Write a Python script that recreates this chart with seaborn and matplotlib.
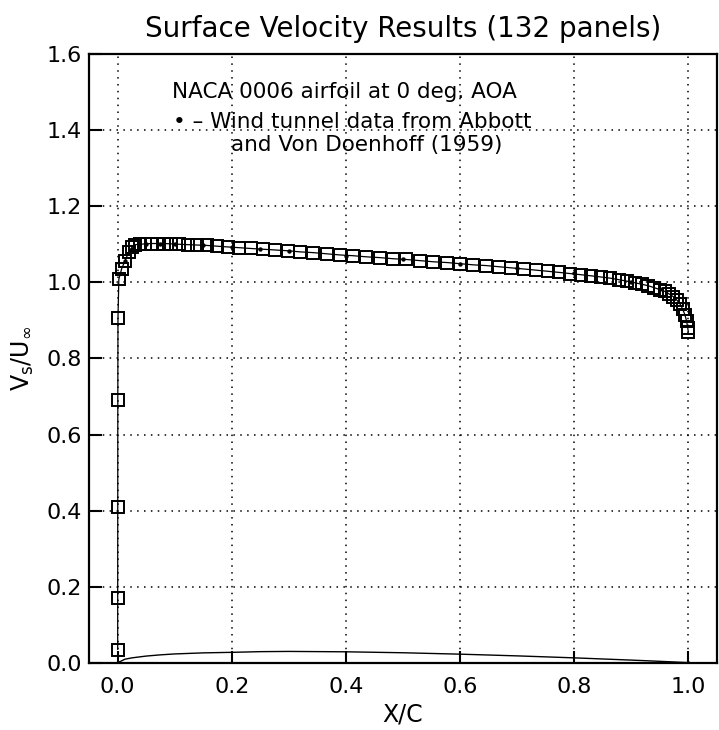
import numpy as np
import pandas as pd
import matplotlib
matplotlib.use("Agg")
import matplotlib.pyplot as plt
import seaborn as sns

# panel method surface velocity (132 panels, one surface shown)
x_panel = [0.0000, 0.0000, 0.0001, 0.0002, 0.0005, 0.0020, 0.0070, 0.013, 0.019, 0.025,
           0.031, 0.039, 0.048, 0.058, 0.069, 0.081, 0.094, 0.108, 0.123, 0.139,
           0.156, 0.174, 0.193, 0.213, 0.233, 0.254, 0.276, 0.298, 0.320, 0.343,
           0.366, 0.389, 0.412, 0.436, 0.459, 0.483, 0.506, 0.530, 0.553, 0.577,
           0.600, 0.623, 0.646, 0.668, 0.690, 0.712, 0.733, 0.754, 0.774, 0.793,
           0.812, 0.830, 0.847, 0.863, 0.878, 0.893, 0.906, 0.918, 0.930, 0.940,
           0.950, 0.959, 0.967, 0.974, 0.980, 0.986, 0.990, 0.994, 0.997, 0.999, 1.000]
v_panel = [0.035, 0.170, 0.410, 0.690, 0.905, 1.008, 1.036, 1.057, 1.079, 1.092,
           1.099, 1.100, 1.101, 1.102, 1.102, 1.102, 1.101, 1.100, 1.099, 1.098,
           1.097, 1.095, 1.093, 1.091, 1.089, 1.087, 1.085, 1.083, 1.080, 1.078,
           1.075, 1.072, 1.070, 1.067, 1.065, 1.062, 1.060, 1.057, 1.054, 1.052,
           1.049, 1.046, 1.044, 1.041, 1.038, 1.035, 1.032, 1.029, 1.026, 1.023,
           1.020, 1.017, 1.014, 1.011, 1.007, 1.003, 0.999, 0.995, 0.991, 0.986,
           0.981, 0.976, 0.969, 0.962, 0.953, 0.942, 0.930, 0.915, 0.898, 0.880, 0.870]

# wind tunnel data (Abbott and Von Doenhoff), mostly hidden under the squares
x_wt = [0.0, 0.0125, 0.025, 0.05, 0.075, 0.10, 0.15, 0.20, 0.25,
        0.30, 0.40, 0.50, 0.60, 0.70, 0.80, 0.90, 0.95, 1.0]
v_wt = [0.0, 1.055, 1.088, 1.100, 1.101, 1.100, 1.098, 1.092, 1.087,
        1.083, 1.070, 1.060, 1.049, 1.038, 1.024, 1.000, 0.982, 0.0]

# NACA 0006 upper surface
x_foil = [0.0, 0.0125, 0.025, 0.05, 0.075, 0.10, 0.15, 0.20, 0.25, 0.30,
          0.40, 0.50, 0.60, 0.70, 0.80, 0.90, 0.95, 1.0]
y_foil = [0.0, 0.0095, 0.0131, 0.0178, 0.0210, 0.0234, 0.0262, 0.0276, 0.0294, 0.0300,
          0.0290, 0.0265, 0.0228, 0.0183, 0.0131, 0.0072, 0.0040, 0.0006]

panel = pd.DataFrame({"x": x_panel, "v": v_panel})
wt = pd.DataFrame({"x": x_wt, "v": v_wt})
foil = pd.DataFrame({"x": x_foil, "y": y_foil})

sns.set_style("white")
plt.rcParams["font.family"] = ["DejaVu Sans"]
plt.rcParams["text.color"] = "black"
plt.rcParams["axes.labelcolor"] = "black"

fig = plt.figure(figsize=(7.19, 7.30), dpi=100)
ax = fig.add_axes([0.124, 0.092, 0.873, 0.834])

sns.lineplot(data=foil, x="x", y="y", ax=ax, color="black", linewidth=1.0,
             estimator=None, sort=False)
sns.lineplot(data=panel, x="x", y="v", ax=ax, color="black", linewidth=0.9,
             estimator=None, sort=False, marker="s", markersize=8.5,
             markerfacecolor="none", markeredgecolor="black", markeredgewidth=1.4)
sns.scatterplot(data=wt, x="x", y="v", ax=ax, color="black", s=10, zorder=5,
                edgecolor="black", linewidth=0)

ax.set_xlim(-0.05, 1.05)
ax.set_ylim(0.0, 1.6)
ax.set_xticks([0.0, 0.2, 0.4, 0.6, 0.8, 1.0])
ax.set_yticks([0.0, 0.2, 0.4, 0.6, 0.8, 1.0, 1.2, 1.4, 1.6])
ax.xaxis.set_major_formatter(matplotlib.ticker.FormatStrFormatter("%.1f"))
ax.yaxis.set_major_formatter(matplotlib.ticker.FormatStrFormatter("%.1f"))
ax.grid(True, color="black", linestyle=(0, (1, 3.5)), linewidth=1.1)
ax.tick_params(direction="in", length=9, width=1.5, labelsize=16,
               bottom=True, left=True, colors="black")
ax.tick_params(axis="x", pad=10)
ax.tick_params(axis="y", pad=5)
for s in ax.spines.values():
    s.set_linewidth(1.6)
    s.set_color("black")

ax.set_xlabel("X/C", fontsize=17, labelpad=4)
ax.set_ylabel(r"V$_\mathregular{s}$/U$_\infty$", fontsize=17, labelpad=8)
ax.set_title("Surface Velocity Results (132 panels)", fontsize=20, pad=12)

ax.text(0.095, 1.50, "NACA 0006 airfoil at 0 deg. AOA", fontsize=15.5, va="center")
ax.text(0.097, 1.421, "\u2022 \u2013 Wind tunnel data from Abbott", fontsize=15.5, va="center")
ax.text(0.198, 1.361, "and Von Doenhoff (1959)", fontsize=15.5, va="center")

fig.savefig("out.png", dpi=100)
